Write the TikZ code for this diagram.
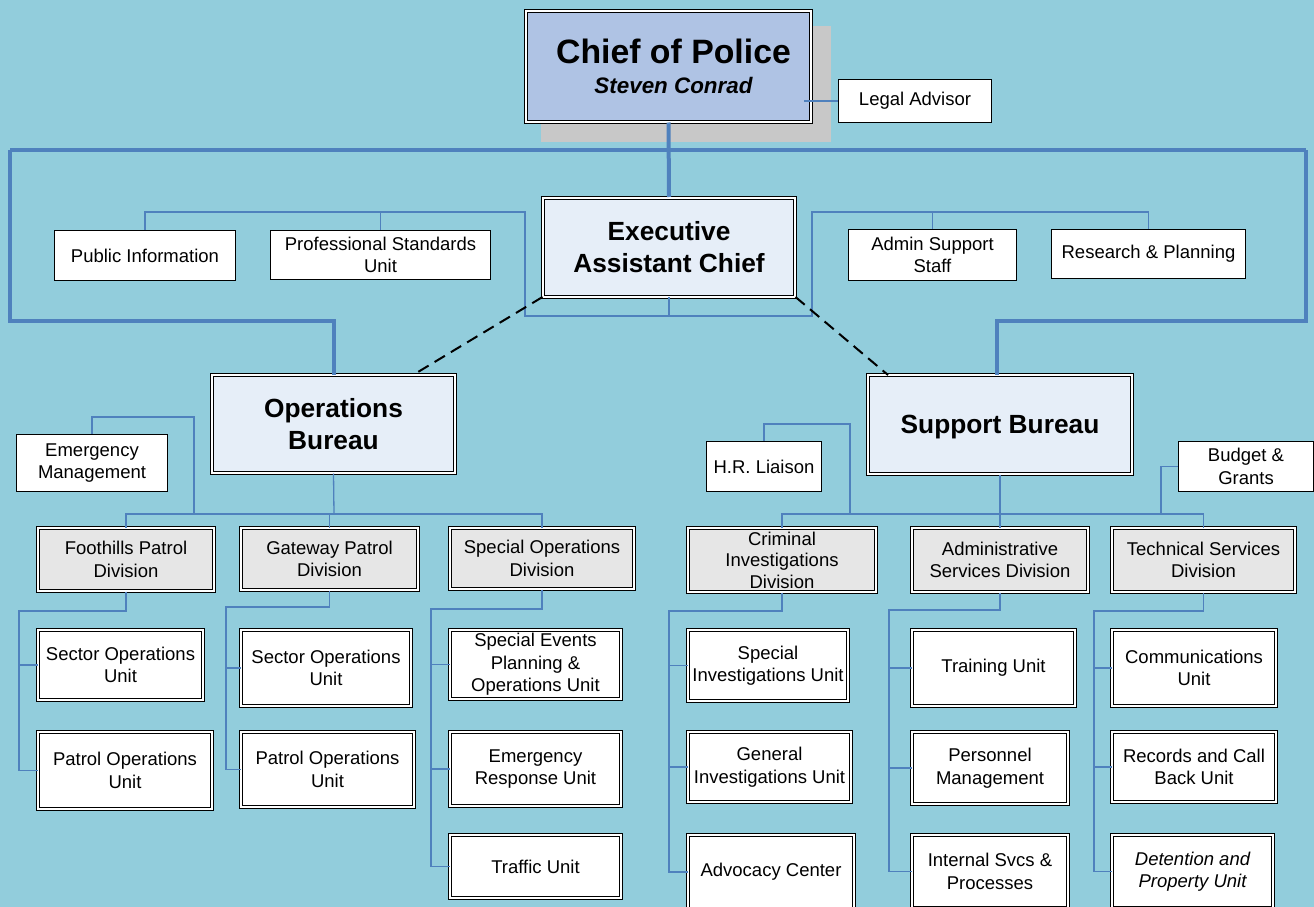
\documentclass[tikz,border=0pt]{standalone}
\usepackage{fontspec}
\setmainfont{Liberation Sans}
\usetikzlibrary{calc}
\definecolor{bg}{RGB}{146,205,220}
\definecolor{cblue}{RGB}{79,129,189}
\definecolor{chieffill}{RGB}{175,195,228}
\definecolor{burfill}{RGB}{230,238,248}
\definecolor{divfill}{RGB}{230,230,230}
\definecolor{shadowgray}{RGB}{200,200,200}
\begin{document}
\begin{tikzpicture}[x=1pt,y=-1pt,
  txt/.style={font=\fontsize{18.5}{22.5}\selectfont},
  box/.style={draw=black, line width=1.2pt, fill=white, inner sep=0pt, align=center, txt},
  dbox/.style={draw=black, line width=1pt, double=white, double distance=2pt, fill=white, inner sep=0pt, align=center, txt},
  divbox/.style={dbox, fill=divfill},
  burbox/.style={dbox, fill=burfill, font=\fontsize{26.3}{32}\selectfont\bfseries},
  conn/.style={draw=cblue, line width=1.3pt},
  thickconn/.style={draw=cblue, line width=4pt},
  dashline/.style={draw=black, line width=2pt, dash pattern=on 12pt off 7pt}
]
\useasboundingbox (0,0) rectangle (1314,907);
\clip (0,0) rectangle (1314,907);
\fill[bg] (0,0) rectangle (1314,907);

% shadow of chief
\fill[shadowgray] (541,26) rectangle (831,142);

% ---- nodes ----
\node[dbox, fill=chieffill, minimum width=285, minimum height=111, font=\fontsize{22.4}{30}\selectfont\bfseries\itshape] (chief) at (668.5,66.5)
  {\hspace*{10pt}{\fontsize{33.8}{30}\selectfont\upshape Chief of Police}\\\hspace*{10pt}Steven Conrad};
\node[box, minimum width=153, minimum height=43] (legal) at (915,101) {Legal Advisor};

\node[burbox, minimum width=252, minimum height=99] (exec) at (669,247) {Executive\\Assistant Chief};
\node[box, minimum width=181, minimum height=50] (pub) at (145,255.5) {Public Information};
\node[box, minimum width=220, minimum height=49] (psu) at (380.5,255) {Professional Standards\\Unit};
\node[box, minimum width=168, minimum height=51] (adm) at (932.5,255) {Admin Support\\Staff};
\node[box, minimum width=194, minimum height=49] (res) at (1148.5,254) {Research \& Planning};

\node[burbox, minimum width=243, minimum height=98] (ops) at (333.5,424) {Operations\\Bureau};
\node[burbox, minimum width=264, minimum height=99, text depth=-2pt] (sup) at (1000,424.5) {Support Bureau};
\node[box, minimum width=151, minimum height=57] (em) at (92,463) {Emergency\\Management};
\node[box, minimum width=115, minimum height=50] (hr) at (764,466.5) {H.R. Liaison};
\node[box, minimum width=135, minimum height=50] (bgr) at (1246,466.5) {Budget \&\\Grants};

\node[divbox, minimum width=176, minimum height=63] (foot) at (126,559.5) {Foothills Patrol\\Division};
\node[divbox, minimum width=177, minimum height=62] (gate) at (329.5,559) {Gateway Patrol\\Division};
\node[divbox, minimum width=184, minimum height=61] (spo) at (542,558.5) {Special Operations\\Division};
\node[divbox, minimum width=188, minimum height=64, font=\fontsize{18.5}{21.5}\selectfont] (cid) at (782,560) {Criminal\\Investigations\\Division};
\node[divbox, minimum width=176, minimum height=64] (asd) at (1000,560) {Administrative\\Services Division};
\node[divbox, minimum width=183, minimum height=64] (tsd) at (1203.5,560) {Technical Services\\Division};

\node[dbox, minimum width=165, minimum height=70] (fsec) at (120.5,665) {Sector Operations\\Unit};
\node[dbox, minimum width=174, minimum height=77] (fpat) at (125,770.5) {Patrol Operations\\Unit};
\node[dbox, minimum width=170, minimum height=76] (gsec) at (326,668) {Sector Operations\\Unit};
\node[dbox, minimum width=173, minimum height=75] (gpat) at (327.5,769.5) {Patrol Operations\\Unit};
\node[dbox, minimum width=171, minimum height=69] (sep) at (535.5,664.5) {Special Events\\Planning \&\\Operations Unit};
\node[dbox, minimum width=171, minimum height=74] (eru) at (535.5,769) {Emergency\\Response Unit};
\node[dbox, minimum width=171, minimum height=63] (tra) at (535.5,866.5) {Traffic Unit};

\node[dbox, minimum width=160, minimum height=71] (siu) at (768,665.5) {Special\\Investigations Unit};
\node[dbox, minimum width=163, minimum height=70] (giu) at (769.5,767) {General\\Investigations Unit};
\node[dbox, minimum width=166, minimum height=74] (adv) at (771,872) {Advocacy Center};
\node[dbox, minimum width=163, minimum height=76] (trn) at (993.5,668) {Training Unit};
\node[dbox, minimum width=156, minimum height=72] (per) at (990,768) {Personnel\\Management};
\node[dbox, minimum width=156, minimum height=73] (isp) at (990,871.5) {Internal Svcs \&\\Processes};
\node[dbox, minimum width=164, minimum height=76] (com) at (1194,668) {Communications\\Unit};
\node[dbox, minimum width=164, minimum height=70] (rec) at (1194,767) {Records and Call\\Back Unit};
\node[dbox, minimum width=161, minimum height=73, font=\fontsize{18.5}{22.5}\selectfont\itshape] (det) at (1192.5,871.5) {Detention and\\Property Unit};

% ---- coordinates ----
\coordinate (tl) at (10,150);
\coordinate (tr) at (1306,150);
\coordinate (lb) at (10,321);
\coordinate (rb) at (1306,321);
\coordinate (supin) at (997,375);
\coordinate (sl) at (525,212);
\coordinate (sr) at (812,212);
\coordinate (sbl) at (525,316);
\coordinate (sbr) at (812,316);
\coordinate (opstop) at (413,375);
\coordinate (suptop) at (888,375);
\coordinate (emc) at (194,417);
\coordinate (emb) at (194,514);
\coordinate (ob) at (334,514);
\coordinate (sb) at (1000,514);
\coordinate (hrc) at (850,424);
\coordinate (hrb) at (850,514);
\coordinate (bgb) at (1161,514);
\coordinate (fsp) at (19,611);
\coordinate (gsp) at (226,607);
\coordinate (ssp) at (431,609);
\coordinate (csp) at (669,611);
\coordinate (asp) at (889,610);
\coordinate (tsp) at (1094,611);

% ---- thick connectors ----
\draw[thickconn] (chief.south) -- (exec.north);
\draw[thickconn] (tl) -- (tr);
\draw[thickconn] (tl) -- (lb) -| (ops.north);
\draw[thickconn] (tr) -- (rb) -| (supin);

% ---- staff connectors ----
\draw[conn] (legal.west) -- ++(-34,0);
\draw[conn] (pub.north) |- (sl) -- (sbl) -- (sbr) -- (sr) -| (res.north);
\draw[conn] (psu.north) -- (psu.north |- sl);
\draw[conn] (adm.north) -- (adm.north |- sr);
\draw[conn] (exec.south) -- (exec.south |- sbl);

% ---- dashed ----
\draw[dashline] (exec.south west) -- (opstop);
\draw[dashline] (exec.south east) -- (suptop);

% ---- operations ----
\draw[conn] (ops.south) -- (ob);
\draw[conn] (foot.north) |- (ob) -| (spo.north);
\draw[conn] (gate.north) -- (gate.north |- ob);
\draw[conn] (em.north) |- (emc) -- (emb);

% ---- support ----
\draw[conn] (sup.south) -- (asd.north);
\draw[conn] (cid.north) |- (sb) -| (tsd.north);
\draw[conn] (hr.north) |- (hrc) -- (hrb);
\draw[conn] (bgr.west) -| (bgb);

% ---- unit spines ----
\draw[conn] (foot.south) |- (fsp) |- (fpat.west);
\draw[conn] (fsec.west -| fsp) -- (fsec.west);
\draw[conn] (gate.south) |- (gsp) |- (gpat.west);
\draw[conn] (gsec.west -| gsp) -- (gsec.west);
\draw[conn] (spo.south) |- (ssp) |- (tra.west);
\draw[conn] (sep.west -| ssp) -- (sep.west);
\draw[conn] (eru.west -| ssp) -- (eru.west);
\draw[conn] (cid.south) |- (csp) |- (adv.west);
\draw[conn] (siu.west -| csp) -- (siu.west);
\draw[conn] (giu.west -| csp) -- (giu.west);
\draw[conn] (asd.south) |- (asp) |- (isp.west);
\draw[conn] (trn.west -| asp) -- (trn.west);
\draw[conn] (per.west -| asp) -- (per.west);
\draw[conn] (tsd.south) |- (tsp) |- (det.west);
\draw[conn] (com.west -| tsp) -- (com.west);
\draw[conn] (rec.west -| tsp) -- (rec.west);
\end{tikzpicture}
\end{document}
